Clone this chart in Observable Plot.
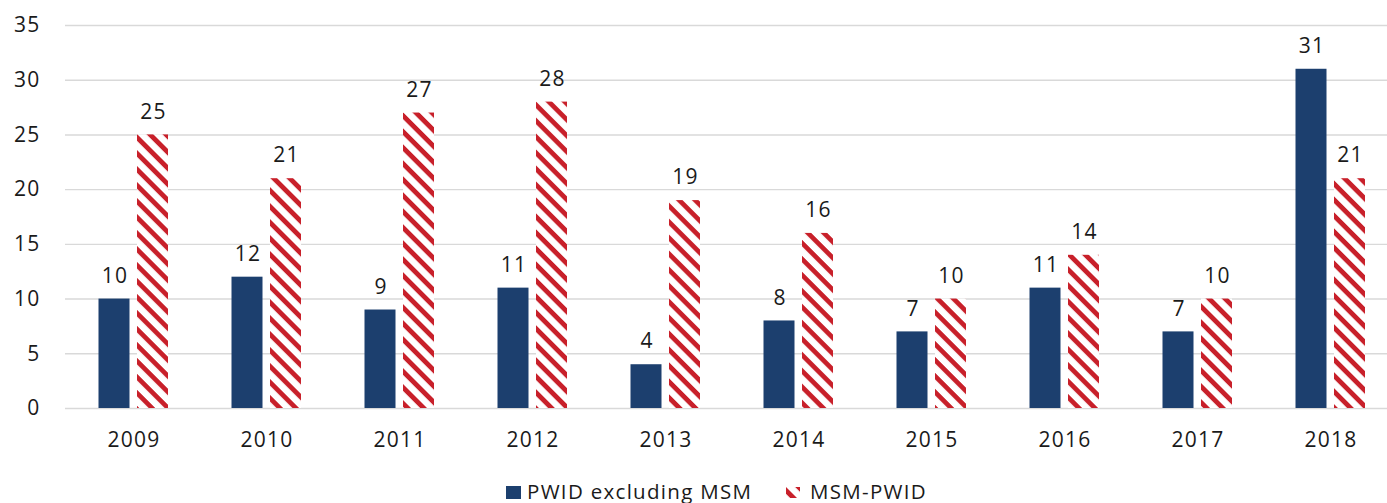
<!DOCTYPE html>
<html>
<head>
<meta charset="utf-8">
<script src="https://cdn.jsdelivr.net/npm/d3@7"></script>
<script src="https://cdn.jsdelivr.net/npm/@observablehq/plot@0.6"></script>
<style>
  html, body { margin: 0; padding: 0; background: #fff; }
  #wrap { position: relative; width: 1387px; height: 503px; overflow: hidden; font-family: "Open Sans", sans-serif; color: #1a1a1a; }
  .leg { position: absolute; font-size: 20.5px; line-height: 20px; letter-spacing: 1.3px; white-space: nowrap; }
</style>
</head>
<body>
<div id="wrap"></div>
<script>
const years = ["2009", "2010", "2011", "2012", "2013", "2014", "2015", "2016", "2017", "2018"];
const pwidExclMsm = [10, 12, 9, 11, 4, 8, 7, 11, 7, 31];
const msmPwid = [25, 21, 27, 28, 19, 16, 10, 14, 10, 21];
const yTicks = [0, 5, 10, 15, 20, 25, 30, 35];
const seriesNames = ["PWID excluding MSM", "MSM-PWID"];

const blue = "#1c3f6e";
const red = "#c8202a";

const dataA = years.map((y, i) => ({year: y, value: pwidExclMsm[i]}));
const dataB = years.map((y, i) => ({year: y, value: msmPwid[i]}));

const font = 21;
const chart = Plot.plot({
  width: 1387,
  height: 470,
  marginLeft: 65,
  marginRight: 0,
  marginTop: 25,
  marginBottom: 62,
  style: {fontFamily: "Open Sans, sans-serif", fontSize: font + "px", color: "#1a1a1a", letterSpacing: "1.2px", background: "white"},
  x: {type: "band", domain: years, range: [65, 1398], paddingInner: 0.77, paddingOuter: 0.385, align: 0.5},
  y: {domain: [0, 35], ticks: yTicks},
  marks: [
    Plot.gridY(yTicks, {stroke: "#d9d9d9", strokeOpacity: 1, strokeWidth: 1.4}),
    Plot.barY(dataA, {x: "year", y: "value", fill: blue, dx: -19.5}),
    Plot.barY(dataB, {x: "year", y: "value", fill: "url(#stripes)", dx: 19}),
    Plot.text(dataA, {x: "year", y: "value", text: d => String(d.value), dx: -19, dy: -23, fontSize: font, fill: "#1a1a1a"}),
    Plot.text(dataB, {x: "year", y: "value", text: d => String(d.value), dx: 19.5, dy: -23, fontSize: font, fill: "#1a1a1a"}),
    Plot.axisY(yTicks, {tickSize: 0, tickPadding: 25, label: null, fontSize: font}),
    Plot.axisX({tickSize: 0, tickPadding: 24, label: null, fontSize: font})
  ]
});

function addPattern(svgSel, id) {
  const defs = svgSel.insert("defs", ":first-child");
  const p = defs.append("pattern")
    .attr("id", id)
    .attr("patternUnits", "userSpaceOnUse")
    .attr("width", 11.3)
    .attr("height", 11.3)
    .attr("patternTransform", "rotate(45)");
  p.append("rect").attr("width", 11.3).attr("height", 11.3).attr("fill", "white");
  p.append("rect").attr("y", 0).attr("width", 11.3).attr("height", 4.8).attr("fill", red);
}
addPattern(d3.select(chart), "stripes");

const wrap = document.getElementById("wrap");
wrap.appendChild(chart);

// Legend below the SVG
const sq = document.createElement("div");
sq.style.cssText = `position:absolute;left:506px;top:485.5px;width:15px;height:13px;background:${blue}`;
wrap.appendChild(sq);
const t1 = document.createElement("div");
t1.className = "leg";
t1.style.left = "527px";
t1.style.top = "481px";
t1.textContent = seriesNames[0];
wrap.appendChild(t1);

const sw = d3.create("svg").attr("width", 14).attr("height", 11)
  .style("position", "absolute").style("left", "786px").style("top", "486.5px");
addPattern(sw, "stripesLeg");
sw.append("rect").attr("width", 14).attr("height", 11).attr("fill", "url(#stripesLeg)");
wrap.appendChild(sw.node());
const t2 = document.createElement("div");
t2.className = "leg";
t2.style.left = "810px";
t2.style.top = "481px";
t2.textContent = seriesNames[1];
wrap.appendChild(t2);
</script>
</body>
</html>
